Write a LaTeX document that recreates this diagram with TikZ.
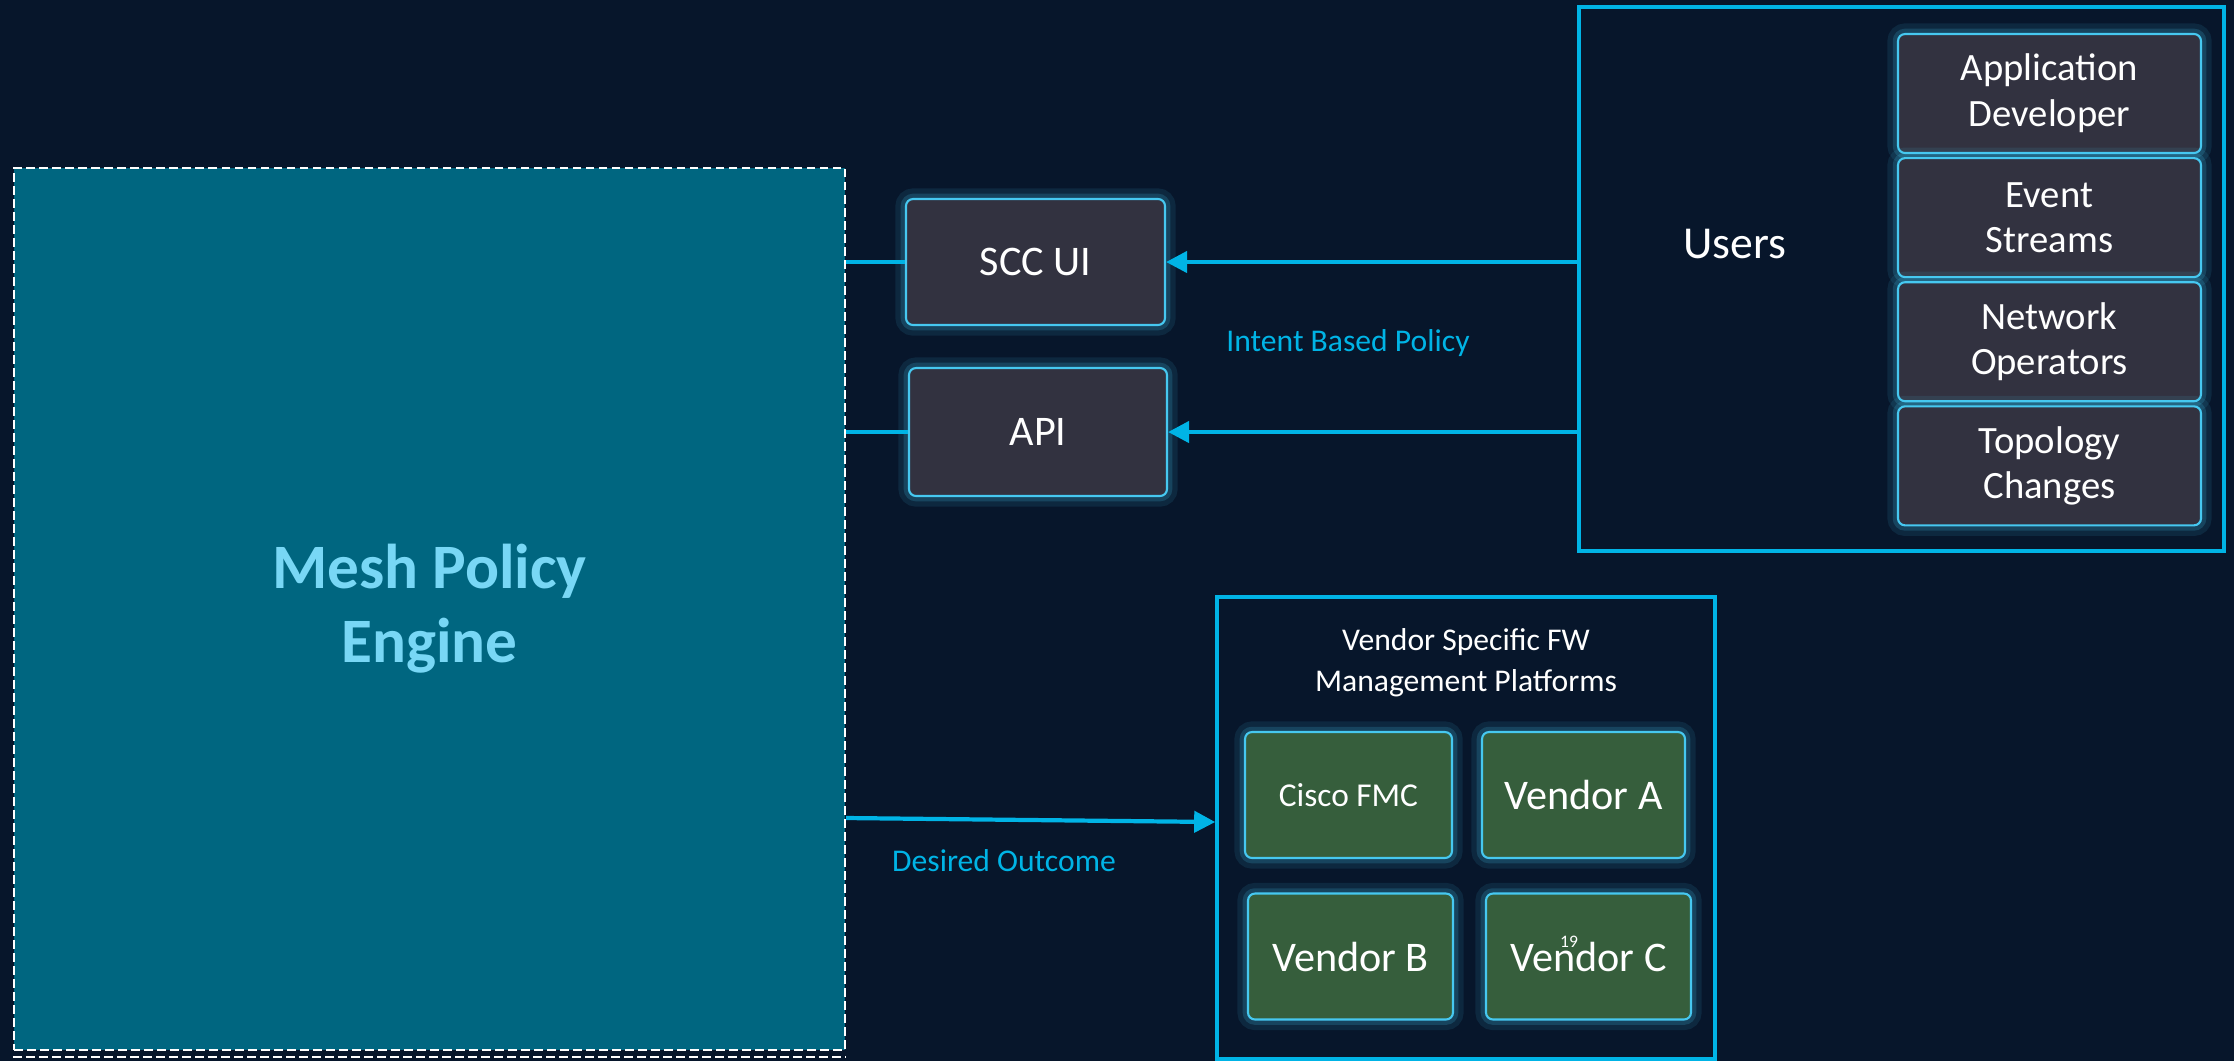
\documentclass[tikz,border=0pt]{standalone}
\usepackage{fontspec}
\setmainfont{Carlito}
\usetikzlibrary{positioning, arrows.meta}

\definecolor{bgnavy}{RGB}{7,22,43}
\definecolor{meshteal}{RGB}{0,102,128}
\definecolor{meshtext}{RGB}{120,215,245}
\definecolor{boxgrey}{RGB}{50,50,64}
\definecolor{edgecyan}{RGB}{70,200,240}
\definecolor{linkcyan}{RGB}{0,180,230}
\definecolor{fwgreen}{RGB}{54,94,60}

\begin{document}
\begin{tikzpicture}[
        every node/.style={text=white, align=center, inner sep=0pt},
        glow/.style={preaction={draw=edgecyan, line width=6pt, opacity=0.10},
                     preaction={draw=edgecyan, line width=3pt, opacity=0.18}},
        uibox/.style={glow, draw=edgecyan, fill=boxgrey, line width=0.6pt,
                      rounded corners=2pt, font=\fontsize{12}{14}\selectfont},
        rolebox/.style={uibox, minimum width=3.03cm, minimum height=1.19cm,
                        font=\fontsize{11}{13}\selectfont},
        fwbox/.style={uibox, fill=fwgreen, minimum width=2.05cm, minimum height=1.26cm},
        frame/.style={draw=linkcyan, line width=1pt},
        link/.style={draw=linkcyan, line width=1.2pt},
        flow/.style={link, -{Triangle[length=6pt, width=6pt]}},
        tag/.style={text=linkcyan, font=\fontsize{9}{11}\selectfont}
    ]

    % Canvas
    \fill[bgnavy] (0,0) rectangle (22.34,-10.61);
    \useasboundingbox (0,0) rectangle (22.34,-10.61);

    % Policy engine
    \node (mesh) [fill=meshteal, draw=white, line width=0.6pt, dash pattern=on 2.5pt off 1.2pt,
        minimum width=8.31cm, minimum height=8.82cm, text=meshtext,
        font=\bfseries\fontsize{18}{21}\selectfont] at (4.295,-6.09) {Mesh Policy\\Engine};
    \draw[white, line width=0.6pt, dash pattern=on 2.5pt off 1.2pt]
        ([yshift=-0.06cm]mesh.south west) -- ([yshift=-0.06cm]mesh.south east);

    % Entry points
    \node (scc) [uibox, minimum width=2.59cm, minimum height=1.26cm] at (10.355,-2.62) {SCC UI};
    \node (api) [uibox, minimum width=2.58cm, minimum height=1.28cm] at (10.38,-4.32) {API};

    % Users and their sources
    \node (users) [frame, minimum width=6.45cm, minimum height=5.44cm] at (19.015,-2.79) {};
    \node (userslbl) [font=\fontsize{13}{15}\selectfont] at (17.35,-2.44) {Users};

    \node (appdev) [rolebox] at (20.495,-0.935) {Application\\Developer};
    \node (events) [rolebox, below=0.03cm of appdev] {Event\\Streams};
    \node (netops) [rolebox, below=0.03cm of events] {Network\\Operators};
    \node (topo)   [rolebox, below=0.03cm of netops] {Topology\\Changes};

    % Firewall managers
    \node (vendors) [frame, minimum width=4.98cm, minimum height=4.62cm] at (14.66,-8.28) {};
    \node (fwtitle) [below=0.33cm of vendors.north, font=\fontsize{9}{11.5}\selectfont]
        {Vendor Specific FW\\Management Platforms};

    \node (fmc)  [fwbox, minimum width=2.07cm, font=\fontsize{9.5}{11}\selectfont] at (13.485,-7.95) {Cisco FMC};
    \node (venda) [fwbox, minimum width=2.03cm] at (15.835,-7.95) {Vendor A};
    \node (vendb) [fwbox] at (13.505,-9.565) {Vendor B};
    \node (vendc) [fwbox] at (15.885,-9.565) {Vendor C};
    \node (slidenum) [font=\fontsize{5}{6}\selectfont] at (15.69,-9.42) {19};

    % Connectors
    \draw[link] (mesh.east |- scc.west) -- (scc.west);
    \draw[link] (mesh.east |- api.west) -- (api.west);
    \draw[flow] (users.west |- scc.east) -- (scc.east);
    \draw[flow] (users.west |- api.east) -- (api.east);
    \draw[flow] ([yshift=-2.09cm]mesh.east) -- ([yshift=0.06cm]vendors.west);

    % Labels
    \node (intent) [tag] at (13.48,-3.43) {Intent Based Policy};
    \node (outcome) [tag] at (10.04,-8.61) {Desired Outcome};

\end{tikzpicture}
\end{document}
